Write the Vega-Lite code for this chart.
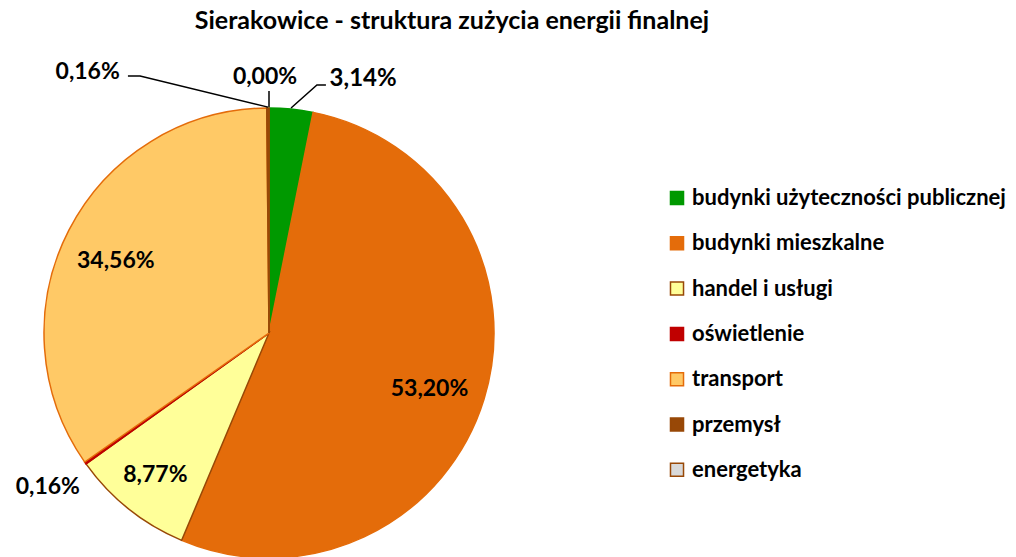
{
  "$schema": "https://vega.github.io/schema/vega-lite/v6.json",
  "autosize": "none",
  "width": 538,
  "height": 448,
  "padding": {"left": 0, "top": 109, "right": 478, "bottom": 0},
  "background": "white",
  "title": {
    "text": "Sierakowice - struktura zużycia energii finalnej",
    "font": "Lato",
    "fontSize": 25,
    "fontWeight": "bold",
    "color": "#000000",
    "anchor": "middle",
    "dx": 183,
    "offset": 14
  },
  "config": {"view": {"stroke": null}},
  "datasets": {
    "slices": [
      {"idx": 1, "name": "budynki użyteczności publicznej", "value": 3.14, "pct": "3,14%"},
      {"idx": 2, "name": "budynki mieszkalne", "value": 53.20, "pct": "53,20%"},
      {"idx": 3, "name": "handel i usługi", "value": 8.77, "pct": "8,77%"},
      {"idx": 4, "name": "oświetlenie", "value": 0.16, "pct": "0,16%"},
      {"idx": 5, "name": "transport", "value": 34.56, "pct": "34,56%"},
      {"idx": 6, "name": "przemysł", "value": 0.16, "pct": "0,16%"},
      {"idx": 7, "name": "energetyka", "value": 0.0, "pct": "0,00%"}
    ],
    "leaders": [
      {"seg": "a", "pt": 1, "u": -0.627, "v": 1.142},
      {"seg": "a", "pt": 2, "u": -0.573, "v": 1.142},
      {"seg": "a", "pt": 3, "u": -0.004, "v": 1.004},
      {"seg": "b", "pt": 1, "u": 0.0, "v": 1.076},
      {"seg": "b", "pt": 2, "u": 0.0, "v": 1.004},
      {"seg": "c", "pt": 1, "u": 0.098, "v": 1.0},
      {"seg": "c", "pt": 2, "u": 0.213, "v": 1.102},
      {"seg": "c", "pt": 3, "u": 0.253, "v": 1.102}
    ]
  },
  "layer": [
    {
      "data": {"name": "slices"},
      "mark": {"type": "arc", "outerRadius": 225, "strokeWidth": 1.5},
      "encoding": {
        "theta": {"field": "value", "type": "quantitative", "stack": true},
        "order": {"field": "idx", "type": "quantitative"},
        "fill": {
          "field": "name", "type": "nominal",
          "scale": {
            "domain": ["budynki użyteczności publicznej", "budynki mieszkalne", "handel i usługi", "oświetlenie", "transport", "przemysł", "energetyka"],
            "range": ["#009900", "#E46C0A", "#FFFF99", "#C00000", "#FFC966", "#984807", "#D9D9D9"]
          },
          "legend": {
            "title": null,
            "orient": "none",
            "legendX": 666,
            "legendY": 78,
            "padding": 0,
            "symbolType": "square",
            "symbolSize": 170,
            "symbolStrokeWidth": 1.5,
            "symbolOpacity": 1,
            "labelFont": "Lato",
            "labelFontSize": 22,
            "labelFontWeight": "bold",
            "labelColor": "#000000",
            "labelOffset": 4,
            "labelLimit": 400,
            "rowPadding": 23.3
          }
        },
        "stroke": {
          "field": "name", "type": "nominal",
          "scale": {
            "domain": ["budynki użyteczności publicznej", "budynki mieszkalne", "handel i usługi", "oświetlenie", "transport", "przemysł", "energetyka"],
            "range": ["#009900", "#E46C0A", "#984807", "#C00000", "#E46C0A", "#984807", "#984807"]
          },
          "legend": {
            "title": null,
            "orient": "none",
            "legendX": 666,
            "legendY": 78,
            "padding": 0,
            "symbolType": "square",
            "symbolSize": 170,
            "symbolStrokeWidth": 1.5,
            "labelFont": "Lato",
            "labelFontSize": 22,
            "labelFontWeight": "bold",
            "labelColor": "#000000",
            "labelOffset": 4,
            "labelLimit": 400,
            "rowPadding": 23.3
          }
        }
      }
    },
    {
      "data": {"name": "slices"},
      "mark": {"type": "text", "radius": 170, "dy": 6, "dx": -2, "font": "Lato", "fontSize": 23, "fontWeight": "bold", "color": "#000000"},
      "encoding": {
        "theta": {"field": "value", "type": "quantitative", "stack": true},
        "order": {"field": "idx", "type": "quantitative"},
        "text": {"condition": {"test": "datum.name === 'budynki mieszkalne' || datum.name === 'transport'", "field": "pct"}, "value": ""}
      }
    },
    {
      "data": {"name": "slices"},
      "mark": {"type": "text", "radius": 182, "font": "Lato", "fontSize": 23, "fontWeight": "bold", "color": "#000000"},
      "encoding": {
        "theta": {"field": "value", "type": "quantitative", "stack": true},
        "order": {"field": "idx", "type": "quantitative"},
        "text": {"condition": {"test": "datum.name === 'handel i usługi'", "field": "pct"}, "value": ""}
      }
    },
    {
      "data": {"name": "slices"},
      "mark": {"type": "text", "radius": 271, "dy": -3, "font": "Lato", "fontSize": 23, "fontWeight": "bold", "color": "#000000"},
      "encoding": {
        "theta": {"field": "value", "type": "quantitative", "stack": true},
        "order": {"field": "idx", "type": "quantitative"},
        "text": {"condition": {"test": "datum.name === 'oświetlenie'", "field": "pct"}, "value": ""}
      }
    },
    {
      "data": {"name": "slices"},
      "mark": {"type": "text", "radius": 255, "dx": 69, "font": "Lato", "fontSize": 24, "fontWeight": "bold", "color": "#000000"},
      "encoding": {
        "theta": {"field": "value", "type": "quantitative", "stack": true},
        "order": {"field": "idx", "type": "quantitative"},
        "text": {"condition": {"test": "datum.name === 'budynki użyteczności publicznej'", "field": "pct"}, "value": ""}
      }
    },
    {
      "data": {"name": "slices"},
      "mark": {"type": "text", "radius": 256, "dx": -4, "font": "Lato", "fontSize": 23, "fontWeight": "bold", "color": "#000000"},
      "encoding": {
        "theta": {"field": "value", "type": "quantitative", "stack": true},
        "order": {"field": "idx", "type": "quantitative"},
        "text": {"condition": {"test": "datum.name === 'energetyka'", "field": "pct"}, "value": ""}
      }
    },
    {
      "data": {"name": "slices"},
      "mark": {"type": "text", "radius": 261, "dx": -180, "font": "Lato", "fontSize": 23, "fontWeight": "bold", "color": "#000000"},
      "encoding": {
        "theta": {"field": "value", "type": "quantitative", "stack": true},
        "order": {"field": "idx", "type": "quantitative"},
        "text": {"condition": {"test": "datum.name === 'przemysł'", "field": "pct"}, "value": ""}
      }
    },
    {
      "data": {"name": "leaders"},
      "mark": {"type": "line", "color": "#000000", "strokeWidth": 1.5},
      "encoding": {
        "x": {"field": "u", "type": "quantitative", "scale": {"domain": [-1.1956, 1.1956], "nice": false, "zero": false}, "axis": null},
        "y": {"field": "v", "type": "quantitative", "scale": {"domain": [-0.9956, 0.9956], "nice": false, "zero": false}, "axis": null},
        "detail": {"field": "seg", "type": "nominal"},
        "order": {"field": "pt", "type": "quantitative"}
      }
    }
  ]
}
